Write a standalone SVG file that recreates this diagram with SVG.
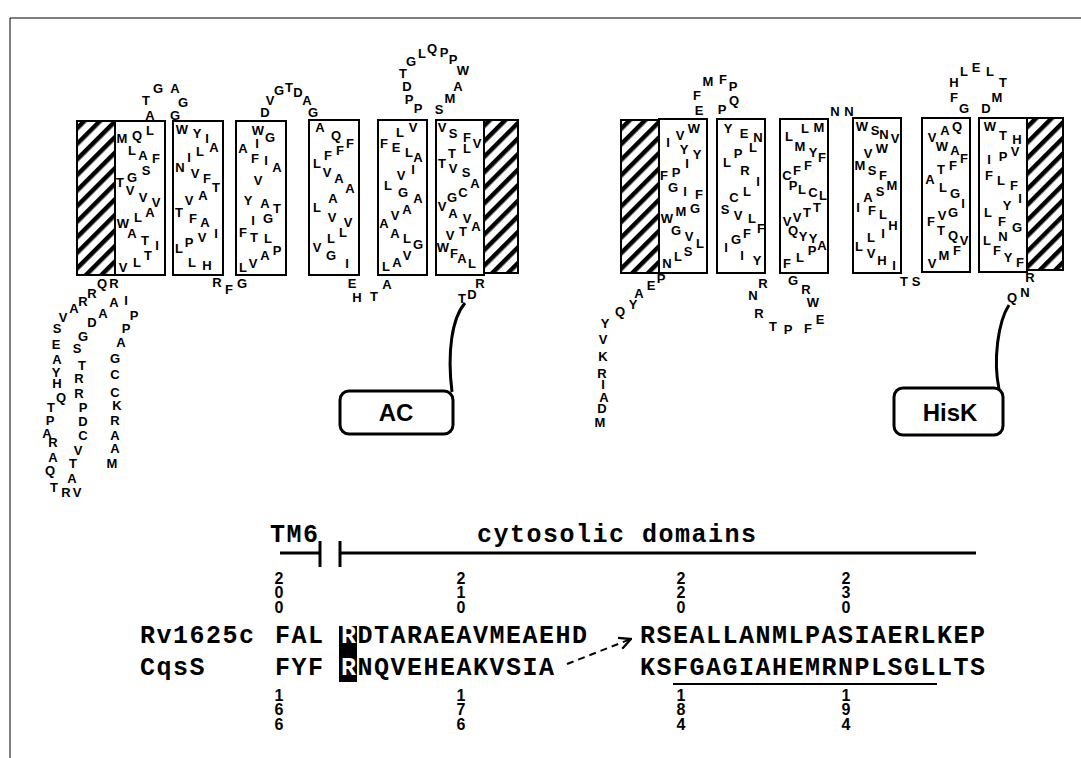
<svg xmlns="http://www.w3.org/2000/svg" width="1081" height="758" viewBox="0 0 1081 758">
<style>
.aa text{font-family:"Liberation Sans",Arial,sans-serif;font-weight:bold;font-size:13px;text-anchor:middle;fill:#000}
.box{fill:#fff;stroke:#000;stroke-width:2}
.hatch{fill:url(#hp);stroke:#000;stroke-width:2}
.dom{fill:#fff;stroke:#000;stroke-width:3}
.domt{font-family:"Liberation Sans",Arial,sans-serif;font-weight:bold;font-size:24px;text-anchor:middle}
.seq{font-family:"Liberation Mono","Courier New",monospace;font-weight:bold;font-size:25px;letter-spacing:1.5px}
.num text{font-family:"Liberation Sans",Arial,sans-serif;font-weight:bold;font-size:16px;text-anchor:middle}
.ln{stroke:#000;stroke-width:3;fill:none}
</style>
<defs>
<pattern id="hp" width="11" height="11" patternUnits="userSpaceOnUse" patternTransform="rotate(45)">
<rect x="0" y="0" width="4.5" height="11" fill="#000"/>
</pattern>
<marker id="arr" markerUnits="userSpaceOnUse" markerWidth="14" markerHeight="14" viewBox="0 0 12 12" refX="11" refY="6" orient="auto">
<path d="M1,1 L11,6 L1,11" fill="none" stroke="#000" stroke-width="2"/>
</marker>
</defs>
<rect width="1081" height="758" fill="#fff"/>
<path d="M10,758 L10,18 L1081,18" fill="none" stroke="#000" stroke-width="1"/>

<g id="tm-left">
<rect class="hatch" x="77" y="121" width="38" height="154"/>
<rect class="box" x="115" y="121" width="50" height="154"/>
<rect class="box" x="173" y="121" width="50" height="154"/>
<rect class="box" x="236" y="121" width="50" height="154"/>
<rect class="box" x="309" y="120" width="50" height="155"/>
<rect class="box" x="378" y="120" width="49" height="155"/>
<rect class="box" x="436" y="120" width="48" height="155"/>
<rect class="hatch" x="484" y="120" width="34" height="153"/>
<g class="aa">
<text x="122" y="143">M</text><text x="137" y="140">Q</text><text x="150" y="135">L</text><text x="132" y="155">L</text><text x="143" y="160">A</text><text x="156" y="163">F</text><text x="146" y="175">S</text><text x="120" y="187">T</text><text x="132" y="182">G</text><text x="130" y="195">V</text><text x="143" y="202">V</text><text x="156" y="207">V</text><text x="150" y="217">A</text><text x="138" y="222">L</text><text x="123" y="228">W</text><text x="132" y="238">A</text><text x="145" y="245">T</text><text x="157" y="250">I</text><text x="148" y="260">T</text><text x="137" y="267">L</text><text x="123" y="272">V</text>
<text x="146" y="105">T</text><text x="150" y="120">A</text><text x="158" y="93">G</text><text x="175" y="93">A</text><text x="183" y="107">G</text><text x="175" y="120">G</text>
<text x="182" y="134">W</text><text x="197" y="138">Y</text><text x="207" y="143">I</text><text x="214" y="152">A</text><text x="200" y="156">L</text><text x="189" y="162">I</text><text x="180" y="172">N</text><text x="195" y="178">V</text><text x="207" y="183">F</text><text x="216" y="192">T</text><text x="203" y="200">A</text><text x="189" y="205">V</text><text x="179" y="217">T</text><text x="193" y="223">F</text><text x="205" y="227">A</text><text x="216" y="238">I</text><text x="202" y="242">V</text><text x="189" y="247">P</text><text x="179" y="253">L</text><text x="192" y="267">L</text><text x="207" y="270">H</text>
<text x="217" y="287">R</text><text x="229" y="294">F</text><text x="242" y="288">G</text>
<text x="258" y="135">W</text><text x="270" y="142">G</text><text x="257" y="148">I</text><text x="243" y="153">A</text><text x="255" y="163">F</text><text x="266" y="165">I</text><text x="277" y="172">A</text><text x="258" y="185">V</text><text x="248" y="205">Y</text><text x="265" y="208">A</text><text x="277" y="213">T</text><text x="253" y="225">I</text><text x="268" y="223">G</text><text x="243" y="237">F</text><text x="254" y="242">T</text><text x="268" y="243">L</text><text x="243" y="272">L</text><text x="253" y="268">V</text><text x="265" y="260">A</text><text x="277" y="255">P</text>
<text x="265" y="117">D</text><text x="270" y="105">V</text><text x="279" y="95">G</text><text x="289" y="92">T</text><text x="298" y="97">D</text><text x="307" y="105">A</text><text x="313" y="117">G</text>
<text x="320" y="132">A</text><text x="336" y="140">Q</text><text x="350" y="148">F</text><text x="340" y="155">F</text><text x="328" y="160">F</text><text x="317" y="168">L</text><text x="327" y="177">V</text><text x="339" y="183">A</text><text x="350" y="193">A</text><text x="333" y="203">A</text><text x="317" y="212">L</text><text x="332" y="222">V</text><text x="348" y="227">V</text><text x="343" y="237">L</text><text x="331" y="243">L</text><text x="317" y="252">V</text><text x="331" y="260">G</text><text x="347" y="268">I</text>
<text x="352" y="288">E</text><text x="357" y="302">H</text><text x="374" y="301">T</text><text x="387" y="289">A</text>
<text x="418" y="113">P</text><text x="409" y="104">P</text><text x="407" y="91">D</text><text x="403" y="78">T</text><text x="411" y="66">G</text><text x="422" y="58">L</text><text x="432" y="53">Q</text><text x="444" y="57">P</text><text x="453" y="64">P</text><text x="463" y="75">W</text><text x="458" y="91">A</text><text x="450" y="103">M</text><text x="439" y="114">S</text>
<text x="400" y="137">L</text><text x="413" y="132">V</text><text x="384" y="148">F</text><text x="396" y="152">E</text><text x="409" y="157">L</text><text x="418" y="162">A</text><text x="413" y="174">I</text><text x="401" y="180">V</text><text x="388" y="190">L</text><text x="403" y="197">G</text><text x="418" y="203">A</text><text x="407" y="214">A</text><text x="395" y="220">V</text><text x="384" y="228">A</text><text x="395" y="238">A</text><text x="407" y="243">L</text><text x="418" y="249">G</text><text x="407" y="260">V</text><text x="397" y="267">A</text><text x="386" y="271">L</text>
<text x="442" y="132">V</text><text x="453" y="138">S</text><text x="467" y="142">F</text><text x="477" y="148">V</text><text x="467" y="153">L</text><text x="452" y="158">T</text><text x="442" y="168">T</text><text x="453" y="173">V</text><text x="466" y="177">S</text><text x="475" y="188">A</text><text x="463" y="197">C</text><text x="452" y="202">G</text><text x="442" y="211">V</text><text x="453" y="218">A</text><text x="467" y="223">V</text><text x="476" y="231">A</text><text x="463" y="236">T</text><text x="450" y="240">V</text><text x="443" y="252">W</text><text x="454" y="258">F</text><text x="462" y="263">A</text><text x="472" y="268">L</text>
<text x="480" y="288">R</text><text x="462" y="303">T</text><text x="472" y="299">D</text>
<text x="102" y="288">Q</text><text x="114" y="288">R</text><text x="92" y="298">R</text><text x="83" y="306">R</text><text x="74" y="313">A</text><text x="63" y="322">V</text><text x="57" y="333">S</text><text x="56" y="349">E</text><text x="57" y="364">A</text><text x="56" y="377">Y</text><text x="57" y="388">H</text><text x="61" y="402">Q</text><text x="51" y="412">T</text><text x="50" y="425">P</text><text x="47" y="438">A</text><text x="53" y="447">R</text><text x="53" y="462">A</text><text x="50" y="475">Q</text><text x="54" y="492">T</text><text x="66" y="497">R</text><text x="77" y="497">V</text><text x="72" y="483">A</text><text x="73" y="468">T</text><text x="78" y="455">V</text><text x="83" y="440">C</text><text x="83" y="426">D</text><text x="83" y="412">P</text><text x="79" y="398">R</text><text x="79" y="383">R</text><text x="82" y="370">T</text><text x="77" y="353">S</text><text x="83" y="341">G</text><text x="92" y="327">D</text><text x="103" y="318">A</text><text x="114" y="307">A</text><text x="126" y="305">I</text><text x="134" y="320">P</text><text x="126" y="333">P</text><text x="121" y="347">A</text><text x="115" y="363">G</text><text x="115" y="379">C</text><text x="115" y="397">C</text><text x="117" y="410">K</text><text x="115" y="425">R</text><text x="115" y="440">A</text><text x="115" y="453">A</text><text x="112" y="468">M</text>
</g>
</g>

<g id="tm-right">
<rect class="hatch" x="621" y="120" width="38" height="153"/>
<rect class="box" x="659" y="119" width="48" height="154"/>
<rect class="box" x="717" y="119" width="48" height="154"/>
<rect class="box" x="780" y="119" width="48" height="154"/>
<rect class="box" x="853" y="118" width="48" height="155"/>
<rect class="box" x="922" y="118" width="48" height="154"/>
<rect class="box" x="979" y="118" width="48" height="154"/>
<rect class="hatch" x="1027" y="118" width="36" height="152"/>
<g class="aa">
<text x="668" y="147">I</text><text x="680" y="140">V</text><text x="694" y="133">W</text><text x="684" y="154">Y</text><text x="697" y="159">Y</text><text x="687" y="168">I</text><text x="676" y="177">P</text><text x="664" y="180">F</text><text x="673" y="192">G</text><text x="685" y="196">I</text><text x="699" y="199">F</text><text x="695" y="213">G</text><text x="681" y="216">M</text><text x="667" y="223">W</text><text x="676" y="235">G</text><text x="689" y="241">V</text><text x="700" y="248">L</text><text x="688" y="256">S</text><text x="678" y="261">L</text><text x="667" y="268">N</text>
<text x="699" y="115">E</text><text x="697" y="100">F</text><text x="708" y="86">M</text><text x="723" y="84">F</text><text x="733" y="91">P</text><text x="734" y="105">Q</text><text x="722" y="114">P</text>
<text x="661" y="283">P</text><text x="651" y="290">E</text><text x="639" y="298">A</text><text x="633" y="309">Y</text><text x="620" y="316">Q</text><text x="605" y="328">Y</text><text x="603" y="344">V</text><text x="603" y="361">K</text><text x="602" y="378">R</text><text x="603" y="389">I</text><text x="604" y="402">A</text><text x="602" y="413">D</text><text x="600" y="427">M</text>
<text x="728" y="133">Y</text><text x="744" y="138">E</text><text x="758" y="142">N</text><text x="753" y="152">L</text><text x="738" y="158">P</text><text x="727" y="167">L</text><text x="745" y="175">R</text><text x="758" y="186">I</text><text x="747" y="196">L</text><text x="734" y="202">C</text><text x="725" y="214">S</text><text x="738" y="220">V</text><text x="752" y="223">L</text><text x="761" y="233">F</text><text x="747" y="238">F</text><text x="736" y="244">G</text><text x="726" y="252">I</text><text x="742" y="260">I</text><text x="757" y="265">Y</text>
<text x="763" y="288">R</text><text x="753" y="300">N</text><text x="759" y="318">R</text><text x="773" y="331">T</text><text x="788" y="334">P</text><text x="808" y="333">F</text><text x="820" y="324">E</text><text x="813" y="307">W</text><text x="806" y="294">R</text><text x="793" y="285">G</text>
<text x="789" y="141">L</text><text x="805" y="133">L</text><text x="819" y="132">M</text><text x="800" y="151">M</text><text x="813" y="157">Y</text><text x="822" y="162">F</text><text x="787" y="180">C</text><text x="797" y="175">F</text><text x="808" y="170">F</text><text x="793" y="190">P</text><text x="802" y="194">L</text><text x="813" y="197">C</text><text x="823" y="200">L</text><text x="787" y="226">V</text><text x="797" y="222">V</text><text x="807" y="217">T</text><text x="817" y="212">T</text><text x="793" y="235">Q</text><text x="803" y="241">Y</text><text x="813" y="243">Y</text><text x="822" y="250">A</text><text x="787" y="268">F</text><text x="800" y="262">L</text><text x="812" y="255">P</text>
<text x="835" y="116">N</text><text x="849" y="116">N</text>
<text x="862" y="131">W</text><text x="875" y="135">S</text><text x="884" y="139">N</text><text x="895" y="143">V</text><text x="882" y="153">W</text><text x="868" y="158">V</text><text x="860" y="170">M</text><text x="872" y="175">S</text><text x="883" y="180">F</text><text x="892" y="190">M</text><text x="880" y="196">S</text><text x="868" y="202">A</text><text x="858" y="212">I</text><text x="872" y="215">F</text><text x="883" y="219">L</text><text x="893" y="230">H</text><text x="883" y="238">I</text><text x="871" y="242">L</text><text x="859" y="251">L</text><text x="871" y="258">V</text><text x="882" y="265">H</text><text x="894" y="270">I</text>
<text x="904" y="286">T</text><text x="916" y="286">S</text>
<text x="964" y="113">G</text><text x="954" y="102">F</text><text x="954" y="87">H</text><text x="964" y="76">L</text><text x="976" y="72">E</text><text x="990" y="76">L</text><text x="1003" y="87">T</text><text x="997" y="102">M</text><text x="986" y="113">D</text>
<text x="932" y="142">V</text><text x="945" y="135">A</text><text x="957" y="131">Q</text><text x="942" y="151">W</text><text x="955" y="155">A</text><text x="964" y="163">F</text><text x="953" y="170">F</text><text x="941" y="174">T</text><text x="930" y="184">A</text><text x="943" y="192">L</text><text x="955" y="198">G</text><text x="963" y="208">I</text><text x="953" y="217">G</text><text x="942" y="220">V</text><text x="931" y="226">F</text><text x="941" y="235">T</text><text x="953" y="240">Q</text><text x="964" y="245">V</text><text x="957" y="255">F</text><text x="944" y="260">M</text><text x="932" y="268">V</text>
<text x="990" y="131">W</text><text x="1003" y="140">T</text><text x="1017" y="144">H</text><text x="1015" y="156">V</text><text x="1003" y="161">P</text><text x="989" y="164">I</text><text x="989" y="180">F</text><text x="1001" y="185">L</text><text x="1014" y="190">F</text><text x="1020" y="203">I</text><text x="1007" y="210">Y</text><text x="988" y="217">L</text><text x="1002" y="226">F</text><text x="1017" y="232">G</text><text x="1003" y="241">N</text><text x="987" y="245">L</text><text x="997" y="255">F</text><text x="1008" y="262">Y</text><text x="1020" y="267">F</text>
<text x="1030" y="282">R</text><text x="1025" y="297">N</text><text x="1012" y="302">Q</text>
</g>
</g>

<g id="ac">
<rect class="dom" x="340" y="391" width="113" height="43" rx="9"/>
<text class="domt" x="396" y="421">AC</text>
</g>
<g id="hisk">
<rect class="dom" x="894" y="388" width="109" height="47" rx="9"/>
<text class="domt" x="950" y="421">HisK</text>
</g>

<g id="connectors">
<path class="ln" d="M465,303 C452,318 447,352 452,392"/>
<path class="ln" d="M1009,305 C998,322 993,360 999,389"/>
<path d="M567,664 L631,639" fill="none" stroke="#000" stroke-width="2" stroke-dasharray="7,5" marker-end="url(#arr)"/>
</g>

<g id="alignment">
<text class="seq" x="270" y="542">TM6</text>
<text class="seq" x="477" y="542">cytosolic domains</text>
<path class="ln" d="M280,553 L320,553 M320,541 L320,567 M340,541 L340,567 M340,553 L976,553"/>
<g class="num">
<text x="279" y="584">2</text><text x="279" y="598">0</text><text x="279" y="613">0</text>
<text x="461" y="584">2</text><text x="461" y="598">1</text><text x="461" y="613">0</text>
<text x="681" y="584">2</text><text x="681" y="598">2</text><text x="681" y="613">0</text>
<text x="846" y="584">2</text><text x="846" y="598">3</text><text x="846" y="613">0</text>
<text x="279" y="701">1</text><text x="279" y="715">6</text><text x="279" y="730">6</text>
<text x="461" y="701">1</text><text x="461" y="715">7</text><text x="461" y="730">6</text>
<text x="681" y="701">1</text><text x="681" y="715">8</text><text x="681" y="730">4</text>
<text x="846" y="701">1</text><text x="846" y="715">9</text><text x="846" y="730">4</text>
</g>
<text class="seq" x="140" y="643">Rv1625c</text>
<text class="seq" x="140" y="675">CqsS</text>
<rect x="339" y="626" width="18" height="56" fill="#000"/>
<text class="seq" x="275" y="643">FAL</text>
<text class="seq" x="341" y="643" fill="#fff">R</text>
<text class="seq" x="357.5" y="643">DTARAEAVMEAEHD</text>
<text class="seq" x="640" y="643">RSEALLANMLPASIAERLKEP</text>
<text class="seq" x="275" y="675">FYF</text>
<text class="seq" x="341" y="675" fill="#fff">R</text>
<text class="seq" x="357.5" y="675">NQVEHEAKVSIA</text>
<text class="seq" x="640" y="675">KSFGAGIAHEMRNPLSGLLTS</text>
<line x1="673" y1="684" x2="937" y2="684" stroke="#000" stroke-width="2"/>
</g>
</svg>
